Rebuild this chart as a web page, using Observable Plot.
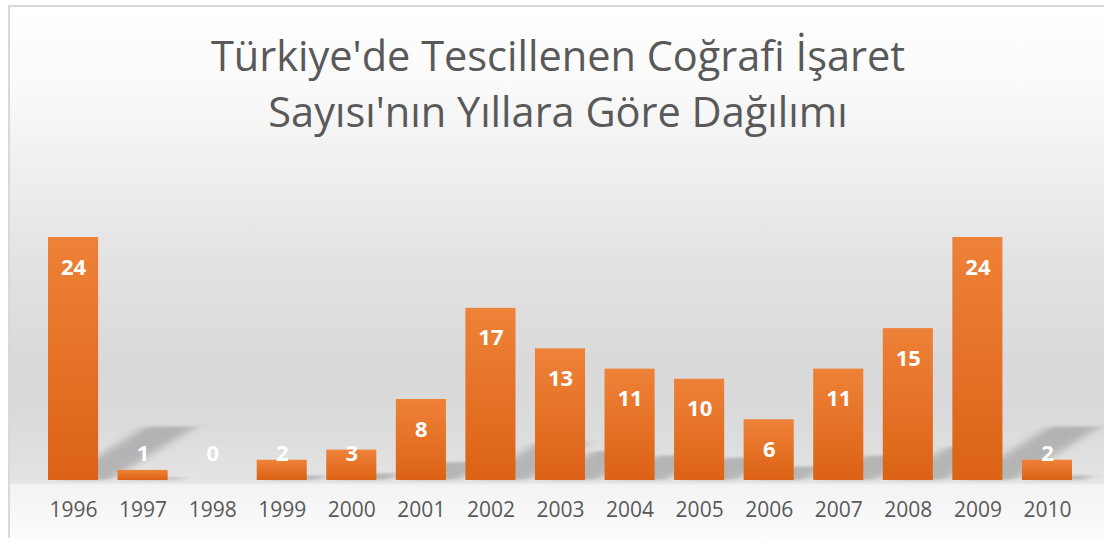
<!DOCTYPE html>
<html>
<head>
<meta charset="utf-8">
<script src="https://cdn.jsdelivr.net/npm/d3@7"></script>
<script src="https://cdn.jsdelivr.net/npm/@observablehq/plot@0.6"></script>
<style>
  html, body { margin: 0; padding: 0; background: #fff; }
  body { position: relative; width: 1104px; height: 538px; overflow: hidden; font-family: "Open Sans", sans-serif; }
  #frame {
    position: absolute; left: 8px; top: 5px; width: 1120px; height: 560px;
    border-left: 2px solid #d9d9d9; border-top: 2px solid #d9d9d9;
    background: linear-gradient(to bottom,
      #ffffff 0px, #fafafa 80px, #eeeeee 170px, #e2e2e2 260px, #d9d9d9 360px,
      #dbdbdb 420px, #e3e3e3 470px, #e6e6e6 476px, #f3f3f3 478px, #f8f8f8 510px, #fdfdfd 533px);
  }
  #title {
    position: absolute; left: 0; top: 27px; width: 1116px; text-align: center;
    font-family: "Open Sans", sans-serif; font-size: 41.5px; line-height: 56px; color: #595959; font-weight: 400;
  }
  #chart { position: absolute; left: 0; top: 170px; }
</style>
</head>
<body>
<div id="frame"></div>
<div id="title">Türkiye'de Tescillenen Coğrafi İşaret<br>Sayısı'nın Yıllara Göre Dağılımı</div>
<div id="chart"></div>
<script>
const years = ["1996","1997","1998","1999","2000","2001","2002","2003","2004","2005","2006","2007","2008","2009","2010"];
const counts = [24, 1, 0, 2, 3, 8, 17, 13, 11, 10, 6, 11, 15, 24, 2];

const data = years.map((year, i) => ({year, count: counts[i]}));

const svg = Plot.plot({
  width: 1104,
  height: 368,
  marginLeft: 48,
  marginRight: 32,
  marginTop: 67,
  marginBottom: 58,
  style: {background: "transparent", fontFamily: "Open Sans, sans-serif", fontSize: "21px", color: "#595959"},
  x: {domain: years, paddingInner: 0.28, paddingOuter: 0, round: false},
  y: {domain: [0, 24], axis: null},
  marks: [
    Plot.barY(data, {x: "year", y: "count", fill: "#8a8a8a"}),
    Plot.barY(data, {x: "year", y: "count", fill: "url(#barGrad)"}),
    Plot.axisX({label: null, tickSize: 0, tickPadding: 22, fontSize: 21, fill: "#595959"}),
    Plot.text(data.filter(d => d.count >= 6), {x: "year", y: "count", text: d => String(d.count), dy: 30, fill: "white", fontSize: 22, fontWeight: "bold"}),
    Plot.text(data.filter(d => d.count < 6), {x: "year", y: 0, text: d => String(d.count), dy: -27, fill: "white", fontSize: 22, fontWeight: "bold"})
  ]
});

const s = d3.select(svg);
s.insert("defs", ":first-child").html(
  `<linearGradient id="barGrad" x1="0" y1="0" x2="0" y2="1">
     <stop offset="0" stop-color="#ee8238"/>
     <stop offset="1" stop-color="#dc6215"/>
   </linearGradient>`);
const shadowGroup = s.selectAll("g[aria-label=bar]").nodes()[0];
d3.select(shadowGroup).selectAll("rect")
  .style("transform-box", "fill-box")
  .style("transform-origin", "0% 100%")
  .style("transform", "translateX(12px) skewX(-58deg) scaleY(0.22)")
  .style("filter", "blur(7px)")
  .style("opacity", "0.5");

document.getElementById("chart").appendChild(svg);
</script>
</body>
</html>
